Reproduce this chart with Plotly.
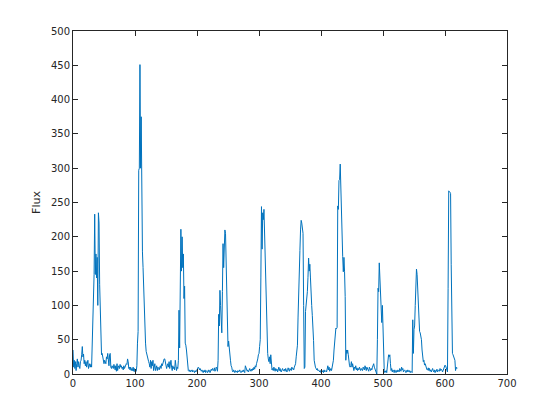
import plotly.graph_objects as go

flux_0_99 = [
    35, 10, 20, 8, 18, 5, 15, 22, 10, 18,
    12, 8, 18, 20, 28, 40, 25, 29, 15, 20,
    12, 18, 10, 15, 20, 8, 12, 15, 10, 14,
    10, 45, 87, 137, 145, 233, 145, 175, 140, 170,
    100, 235, 220, 130, 92, 32, 28, 30, 22, 18,
    15, 20, 18, 15, 25, 22, 30, 18, 12, 28,
    30, 10, 8, 12, 10, 8, 14, 10, 6, 12,
    4, 15, 5, 10, 12, 8, 14, 10, 12, 8,
    10, 6, 12, 8, 10, 12, 15, 14, 22, 18,
    8, 10, 6, 10, 5, 8, 5, 10, 4, 8,
]
flux_100_199 = [
    3, 5, 4, 12, 45, 62, 297, 300, 451, 300,
    375, 220, 178, 155, 120, 85, 60, 45, 33, 28,
    28, 22, 18, 15, 10, 20, 8, 18, 12, 20,
    5, 10, 15, 5, 8, 12, 5, 10, 8, 6,
    10, 12, 8, 15, 12, 15, 20, 22, 22, 15,
    10, 8, 12, 15, 10, 18, 8, 12, 20, 10,
    5, 12, 8, 10, 6, 20, 8, 5, 10, 8,
    20, 93, 38, 170, 211, 150, 200, 155, 175, 110,
    128, 45, 42, 35, 22, 12, 5, 4, 6, 3,
    5, 4, 6, 3, 5, 4, 2, 5, 3, 4,
]
flux_200_299 = [
    6, 8, 10, 9, 6, 8, 5, 4, 6, 3,
    2, 5, 3, 6, 2, 4, 5, 2, 3, 6,
    5, 2, 4, 7, 5, 8, 6, 5, 9, 4,
    6, 10, 8, 4, 20, 87, 70, 122, 100, 80,
    60, 120, 190, 155, 200, 210, 205, 150, 110, 100,
    40, 48, 35, 28, 20, 12, 10, 5, 3, 6,
    4, 2, 5, 3, 4, 2, 5, 3, 4, 6,
    3, 2, 4, 5, 3, 6, 4, 2, 12, 8,
    5, 4, 6, 3, 5, 8, 6, 4, 7, 5,
    8, 6, 10, 7, 12, 10, 15, 18, 22, 28,
]
flux_300_399 = [
    30, 40, 50, 140, 244, 182, 235, 225, 240, 200,
    150, 120, 80, 47, 30, 22, 18, 25, 15, 28,
    10, 6, 8, 5, 10, 6, 4, 8, 5, 7,
    3, 6, 10, 5, 8, 4, 3, 6, 8, 5,
    5, 7, 4, 8, 6, 3, 5, 9, 6, 4,
    8, 6, 5, 10, 7, 8, 6, 10, 12, 15,
    25, 35, 42, 83, 135, 150, 180, 210, 224, 220,
    215, 205, 100, 8, 10, 91, 100, 113, 120, 141,
    169, 150, 160, 140, 105, 100, 85, 71, 49, 20,
    12, 10, 8, 6, 8, 5, 6, 4, 3, 5,
]
flux_400_499 = [
    2, 4, 3, 5, 2, 6, 3, 4, 5, 3,
    8, 12, 6, 10, 4, 6, 8, 5, 10, 12,
    20, 35, 50, 65, 67, 66, 68, 245, 240, 282,
    283, 306, 260, 244, 181, 171, 149, 170, 149, 113,
    20, 35, 30, 35, 28, 15, 12, 10, 12, 18,
    10, 15, 8, 5, 10, 8, 12, 6, 9, 5,
    8, 6, 10, 7, 5, 8, 6, 5, 10, 8,
    6, 12, 8, 5, 10, 8, 6, 4, 10, 8,
    5, 8, 6, 10, 12, 15, 10, 8, 5, 3,
    0, 50, 125, 120, 162, 135, 130, 105, 75, 100,
]
flux_500_620 = [
    47, 5, 5, 2, 3, 5, 2, 10, 18, 28,
    25, 28, 15, 5, 8, 3, 6, 5, 2, 6,
    4, 2, 5, 3, 6, 4, 3, 8, 5, 4,
    10, 6, 8, 3, 5, 6, 4, 2, 5, 3,
    6, 4, 3, 5, 2, 4, 3, 2, 79, 30,
    65, 70, 100, 135, 153, 145, 120, 115, 65, 62,
    60, 55, 50, 35, 23, 18, 20, 13, 15, 10,
    8, 6, 6, 9, 5, 8, 4, 6, 3, 5,
    8, 5, 3, 6, 2, 5, 4, 7, 3, 5,
    6, 4, 8, 5, 7, 6, 3, 5, 8, 10,
    13, 12, 8, 5, 3, 125, 267, 266, 265, 263,
    160, 74, 30, 28, 25, 25, 20, 5, 10, 8, 9,
]

flux = flux_0_99 + flux_100_199 + flux_200_299 + flux_300_399 + flux_400_499 + flux_500_620
sample = list(range(len(flux)))

x_ticks = [0, 100, 200, 300, 400, 500, 600, 700]
y_ticks = [0, 50, 100, 150, 200, 250, 300, 350, 400, 450, 500]

fig = go.Figure(go.Scatter(x=sample, y=flux, mode="lines",
                           line=dict(color="#0072BD", width=1)))

axis_common = dict(showgrid=False, zeroline=False, showline=True,
                   linecolor="#262626", linewidth=1, mirror="ticks",
                   ticks="inside", ticklen=5, tickcolor="#262626",
                   tickfont=dict(family="DejaVu Sans", size=10, color="#262626"))

fig.update_layout(
    width=552, height=404,
    margin=dict(l=65, r=53, t=23, b=38),
    paper_bgcolor="white", plot_bgcolor="white",
    showlegend=False,
    xaxis=dict(range=[0, 700], tickvals=x_ticks, **axis_common),
    yaxis=dict(range=[0, 500], tickvals=y_ticks,
               title=dict(text="Flux", font=dict(family="DejaVu Sans", size=11, color="#262626"), standoff=8),
               **axis_common),
)

fig.write_html("out.html")
